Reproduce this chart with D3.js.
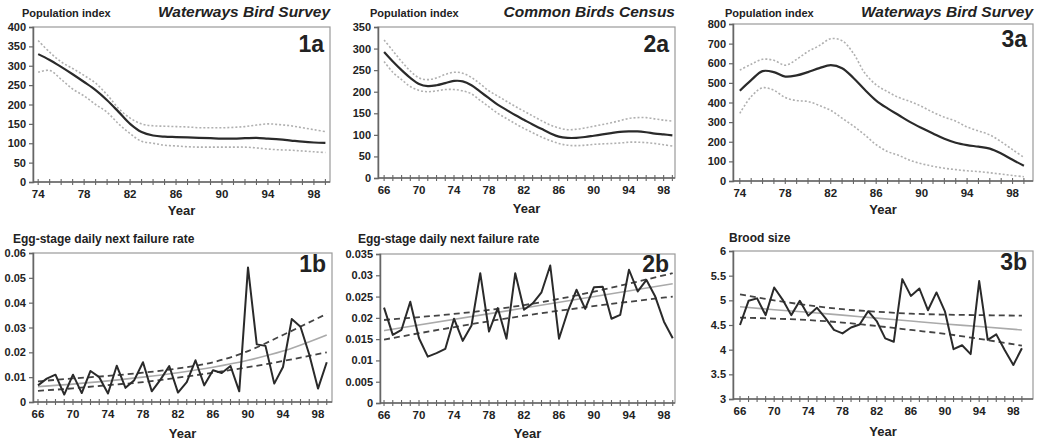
<!DOCTYPE html>
<html><head><meta charset="utf-8">
<script src="https://cdn.jsdelivr.net/npm/d3@7"></script>
<style>
body{margin:0;background:#fff;}
svg text{font-family:"Liberation Sans",Arial,sans-serif;fill:#222;}
</style></head>
<body><svg id="c" width="1042" height="442"></svg>
<script>
// ---------- DATA ----------
const yearsA = [74,75,76,77,78,79,80,81,82,83,84,85,86,87,88,89,90,91,92,93,94,95,96,97,98,99];
const yearsB = [66,67,68,69,70,71,72,73,74,75,76,77,78,79,80,81,82,83,84,85,86,87,88,89,90,91,92,93,94,95,96,97,98,99];

// 1a Waterways Bird Survey population index
const idx1a   = [330,315,297,278,258,237,211,181,150,129,120,117,116,115,114,113,112,112,113,114,112,110,107,104,102,101];
const upper1a = [365,335,310,293,275,255,225,190,165,150,145,144,143,142,140,140,140,141,143,147,150,148,145,140,135,130];
const lower1a = [283,288,265,240,222,200,180,150,125,105,100,95,93,91,90,90,90,90,90,88,85,83,82,80,78,76];

// 2a Common Birds Census population index
const idx2a   = [292,270,250,232,218,213,215,220,225,224,215,200,185,170,158,146,135,124,114,104,96,93,93,95,98,101,104,107,108,108,106,103,101,99];
const upper2a = [320,295,270,248,232,228,232,240,245,243,233,218,202,190,178,166,155,144,133,123,116,112,113,116,120,124,128,133,138,140,140,137,134,132];
const lower2a = [270,245,228,212,203,200,202,205,205,202,195,180,165,150,138,126,115,105,95,87,80,76,75,76,78,79,80,81,83,83,82,80,77,74];

// 3a Waterways Bird Survey population index
const idx3a   = [460,514,560,555,532,538,555,575,590,575,525,465,410,370,335,300,270,242,215,195,183,175,165,140,108,78];
const upper3a = [565,595,620,615,590,620,660,690,725,715,650,550,490,455,425,405,380,350,325,305,275,255,235,200,160,120];
const lower3a = [345,430,475,462,425,410,405,385,360,320,280,235,185,150,130,105,88,75,65,58,52,48,42,35,28,22];

// 1b egg-stage daily nest failure rate
const rate1b = [0.0067,0.0094,0.011,0.003,0.011,0.0036,0.0125,0.010,0.0034,0.0146,0.0057,0.0088,0.016,0.0043,0.009,0.0145,0.0038,0.008,0.0168,0.0067,0.0128,0.0117,0.0145,0.0043,0.0542,0.0232,0.0226,0.0074,0.0141,0.0334,0.0303,0.0191,0.0054,0.016];
const fitYears1b = [66,70,74,78,82,86,90,94,99];
const fit1b      = [0.0062,0.0072,0.0085,0.0100,0.0118,0.0140,0.0168,0.0205,0.0270];
const fitUp1b    = [0.0083,0.0095,0.0105,0.0118,0.0135,0.0160,0.0205,0.0270,0.0355];
const fitLo1b    = [0.0045,0.0055,0.0068,0.0080,0.0098,0.0118,0.0140,0.0165,0.0200];

// 2b egg-stage daily nest failure rate
const rate2b = [0.0224,0.016,0.0172,0.0238,0.0152,0.0109,0.0117,0.0127,0.0198,0.0146,0.0182,0.0305,0.0168,0.0223,0.0151,0.0305,0.0219,0.0234,0.026,0.0323,0.0151,0.0215,0.0266,0.0221,0.0272,0.0273,0.0198,0.0207,0.0313,0.0262,0.0289,0.025,0.0191,0.0152];
const fitYears2b = [66,82,99];
const fit2b      = [0.0170,0.0223,0.0280];
const fitUp2b    = [0.0195,0.0230,0.0305];
const fitLo2b    = [0.0149,0.0205,0.0250];

// 3b brood size
const brood3b = [4.5,4.99,5.04,4.70,5.26,5.01,4.70,4.99,4.69,4.85,4.64,4.40,4.33,4.45,4.51,4.78,4.58,4.23,4.16,5.43,5.09,5.24,4.80,5.16,4.77,4.01,4.09,3.91,5.39,4.20,4.31,3.99,3.69,4.03];
const fitYears3b = [66,70,74,78,82,86,90,94,99];
const fit3b      = [4.87,4.81,4.76,4.70,4.64,4.58,4.52,4.47,4.40];
const fitUp3b    = [5.12,5.00,4.90,4.82,4.77,4.73,4.71,4.70,4.69];
const fitLo3b    = [4.65,4.63,4.60,4.55,4.48,4.40,4.32,4.22,4.08];

const ticksA = [74,78,82,86,90,94,98];
const ticksB = [66,70,74,78,82,86,90,94,98];
const yTicks1a = [0,50,100,150,200,250,300,350,400];
const yTicks2a = [0,50,100,150,200,250,300,350];
const yTicks3a = [0,100,200,300,400,500,600,700,800];
const yTicks1b = [0,0.01,0.02,0.03,0.04,0.05,0.06];
const yTicks2b = [0,0.005,0.01,0.015,0.02,0.025,0.03,0.035];
const yTicks3b = [3,3.5,4,4.5,5,5.5,6];

// ---------- DRAW ----------
const svg = d3.select("#c");

function panel(o){
  const g = svg.append("g");
  const x = d3.scaleLinear().domain(o.xd).range([o.l,o.r]);
  const y = d3.scaleLinear().domain(o.yd).range([o.b,o.t]);
  g.append("rect").attr("x",o.l).attr("y",o.t).attr("width",o.r-o.l).attr("height",o.b-o.t)
    .attr("fill","none").attr("stroke","#9a9a9a").attr("stroke-width",1.2);
  const ya = g.append("g").attr("transform",`translate(${o.l},0)`)
    .call(d3.axisLeft(y).tickValues(o.yt).tickSize(4).tickPadding(3).tickFormat(d=>String(d)));
  ya.select(".domain").attr("stroke","#666").attr("stroke-width",1.5);
  ya.selectAll(".tick line").attr("stroke","#666").attr("stroke-width",1.2);
  ya.selectAll(".tick text").style("font-size","11px").style("font-weight","bold").attr("fill","#222");
  g.append("line").attr("x1",o.l).attr("x2",o.r).attr("y1",o.b).attr("y2",o.b)
    .attr("stroke","#666").attr("stroke-width",1.5);
  g.selectAll(".mt").data(o.years).enter().append("line")
    .attr("x1",d=>x(d)).attr("x2",d=>x(d)).attr("y1",o.b-3).attr("y2",o.b+3)
    .attr("stroke","#666").attr("stroke-width",1.1);
  g.selectAll(".xl").data(o.xt).enter().append("text")
    .attr("x",d=>x(d)).attr("y",o.b+16).attr("text-anchor","middle")
    .style("font-size","11.5px").style("font-weight","bold").text(d=>d);
  g.append("text").attr("x",(o.l+o.r)/2).attr("y",o.b+o.yearDy).attr("text-anchor","middle")
    .style("font-size","13px").style("font-weight","bold").text("Year");
  g.append("text").attr("x",o.ylx).attr("y",o.yly).style("font-size",o.ylfs).style("font-weight","bold").text(o.ylabel);
  if(o.title) g.append("text").attr("x",o.r).attr("y",17).attr("text-anchor","end")
    .style("font-size","15.5px").style("font-weight","bold").style("font-style","italic").text(o.title);
  g.append("text").attr("x",o.r-6).attr("y",o.t+o.tagDy).attr("text-anchor","end")
    .style("font-size","23px").style("font-weight","bold").text(o.tag);

  o.series.forEach(s=>{
    const line = d3.line().x((d,i)=>x(s.years[i])).y(d=>y(d)).curve(s.curve||d3.curveLinear);
    g.append("path").attr("d",line(s.values)).attr("fill","none")
      .attr("stroke",s.color).attr("stroke-width",s.w)
      .attr("stroke-dasharray",s.dash||null).attr("stroke-linejoin","round");
  });
}

const smooth = d3.curveCatmullRom.alpha(0.5);
const dotted = ()=>({color:"#b0b0b0",w:1.6,dash:"2,2",curve:smooth});

panel({l:33,r:330,t:27,b:182,xd:[73.55,99.4],yd:[0,400],yt:yTicks1a,xt:ticksA,years:yearsA,yearDy:33,
  ylabel:"Population index",ylx:22,yly:17,ylfs:"11px",title:"Waterways Bird Survey",tag:"1a",tagDy:25,
  series:[
    Object.assign(dotted(),{years:yearsA,values:upper1a}),
    Object.assign(dotted(),{years:yearsA,values:lower1a}),
    {years:yearsA,values:idx1a,color:"#2a2a2a",w:2.2,curve:smooth}
  ]});
panel({l:378,r:675,t:27,b:178,xd:[65.3,99.3],yd:[0,350],yt:yTicks2a,xt:ticksB,years:yearsB,yearDy:35,
  ylabel:"Population index",ylx:370,yly:17,ylfs:"11px",title:"Common Birds Census",tag:"2a",tagDy:25,
  series:[
    Object.assign(dotted(),{years:yearsB,values:upper2a}),
    Object.assign(dotted(),{years:yearsB,values:lower2a}),
    {years:yearsB,values:idx2a,color:"#2a2a2a",w:2.2,curve:smooth}
  ]});
panel({l:733,r:1033,t:24,b:181,xd:[73.4,99.8],yd:[0,800],yt:yTicks3a,xt:ticksA,years:yearsA,yearDy:33,
  ylabel:"Population index",ylx:725,yly:17,ylfs:"11px",title:"Waterways Bird Survey",tag:"3a",tagDy:23,
  series:[
    Object.assign(dotted(),{years:yearsA,values:upper3a}),
    Object.assign(dotted(),{years:yearsA,values:lower3a}),
    {years:yearsA,values:idx3a,color:"#2a2a2a",w:2.2,curve:smooth}
  ]});

const trend = (ys,v)=>({years:ys,values:v,color:"#aaa",w:1.6,curve:d3.curveMonotoneX});
const dash = (ys,v)=>({years:ys,values:v,color:"#444",w:1.8,dash:"6,4",curve:d3.curveMonotoneX});

panel({l:33,r:332,t:253,b:402,xd:[65.43,99.6],yd:[0,0.06],yt:yTicks1b,xt:ticksB,years:yearsB,yearDy:36,
  ylabel:"Egg-stage daily next failure rate",ylx:13,yly:243,ylfs:"12px",tag:"1b",tagDy:19,
  series:[trend(fitYears1b,fit1b),dash(fitYears1b,fitUp1b),dash(fitYears1b,fitLo1b),
    {years:yearsB,values:rate1b,color:"#2a2a2a",w:2}]});
panel({l:380,r:675,t:254,b:403,xd:[65.54,99.26],yd:[0,0.035],yt:yTicks2b,xt:ticksB,years:yearsB,yearDy:35,
  ylabel:"Egg-stage daily next failure rate",ylx:358,yly:243,ylfs:"12px",tag:"2b",tagDy:18,
  series:[trend(fitYears2b,fit2b),dash(fitYears2b,fitUp2b),dash(fitYears2b,fitLo2b),
    {years:yearsB,values:rate2b,color:"#2a2a2a",w:2}]});
panel({l:733,r:1033,t:251,b:399,xd:[65.18,100.3],yd:[3,6],yt:yTicks3b,xt:ticksB,years:yearsB,yearDy:37,
  ylabel:"Brood size",ylx:729,yly:242,ylfs:"12px",tag:"3b",tagDy:19,
  series:[trend(fitYears3b,fit3b),dash(fitYears3b,fitUp3b),dash(fitYears3b,fitLo3b),
    {years:yearsB,values:brood3b,color:"#2a2a2a",w:2}]});
</script></body></html>
